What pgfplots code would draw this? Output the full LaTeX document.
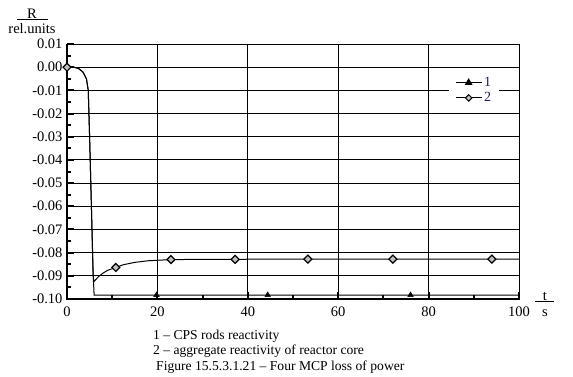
\documentclass[border=0pt]{standalone}
\usepackage{fontspec}
\setmainfont{Liberation Serif}
\usepackage{pgfplots}
\pgfplotsset{compat=1.18}
\definecolor{legtxt}{HTML}{1C1C5C}
\begin{document}
\begin{tikzpicture}[x=1pt,y=1pt]
\useasboundingbox (0,0) rectangle (573,376);
\begin{axis}[
  at={(67pt,77pt)}, anchor=south west,
  scale only axis, width=452pt, height=255pt,
  xmin=0, xmax=100, ymin=-0.10, ymax=0.01,
  xtick={0,20,40,60,80,100},
  xticklabels={0,20,40,60,80,100},
  minor xtick={10,30,50,70,90},
  ytick={-0.10,-0.09,-0.08,-0.07,-0.06,-0.05,-0.04,-0.03,-0.02,-0.01,0,0.01},
  yticklabels={-0.10,-0.09,-0.08,-0.07,-0.06,-0.05,-0.04,-0.03,-0.02,-0.01,0.00,0.01},
  minor ytick={-0.095,-0.085,-0.075,-0.065,-0.055,-0.045,-0.035,-0.025,-0.015,-0.005,0.005},
  grid=major,
  major grid style={black, line width=0.9pt},
  axis line style={black, line width=0.9pt},
  xtick pos=bottom, ytick pos=left,
  tick align=inside,
  major tick length=7pt, minor tick length=4pt,
  every tick/.style={black, line width=2pt},
  ticklabel style={font=\fontsize{14.5}{16}\selectfont},
  xticklabel style={yshift=-4pt},
  yticklabel style={xshift=-1pt},
  clip=false,
  legend style={at={(rel axis cs:0.845,0.882)}, anchor=north west, draw=none, fill=white,
    font=\fontsize{14}{14}\selectfont, text=legtxt, inner xsep=6pt, inner ysep=1pt,
    row sep=0.5pt, cells={anchor=west}},
  legend image code/.code={\draw[mark repeat=2,mark phase=2] plot coordinates {(0pt,0pt) (13pt,0pt) (26pt,0pt)};},
]
\addplot[black, line width=1pt, forget plot] coordinates {
 (0,0) (1.5,0) (2.5,-0.0005) (3.5,-0.002) (4.3,-0.005) (4.7,-0.01) (5.0,-0.03)
 (5.4,-0.06) (5.8,-0.09) (6.0,-0.0983) (100,-0.0983)};
\addplot[black, only marks, mark=triangle*, mark size=3.2pt, forget plot] coordinates {
 (0,0) (19.8,-0.0983) (44.4,-0.0983) (76,-0.0983)};
\addplot[black, line width=1pt, forget plot] coordinates {
 (0,0) (1.5,0) (2.5,-0.0005) (3.5,-0.002) (4.3,-0.005) (4.7,-0.01) (5.0,-0.03)
 (5.4,-0.06) (5.75,-0.088) (5.9,-0.0926) (7,-0.0903) (8,-0.0888) (9,-0.0876) (10.8,-0.0864)
 (12.5,-0.0852) (15,-0.0842) (18,-0.0835) (23,-0.0830) (30,-0.0829) (50,-0.0828) (100,-0.0828)};
\addplot[black, only marks, mark=square*, mark options={rotate=45, fill=gray!50, line width=1.2pt}, mark size=2.8pt, forget plot] coordinates {
 (0,0) (10.8,-0.0864) (23,-0.0830) (37.2,-0.0829) (53.3,-0.0828) (72.1,-0.0828) (94,-0.0828)};
\addlegendimage{black, line width=1pt, mark=triangle*, mark size=3.5pt}
\addlegendentry{1}
\addlegendimage{black, line width=1pt, mark=square*, mark options={rotate=45, fill=gray!50, line width=1pt}, mark size=2.3pt}
\addlegendentry{2}
\draw[black, line width=2.6pt] (rel axis cs:0,1) -- (rel axis cs:0,0) -- (rel axis cs:1,0);
\end{axis}
\node[font=\fontsize{14.5}{16}\selectfont] at (32,362) {R};
\draw[line width=0.8pt] (17,357) -- (48,357);
\node[font=\fontsize{14.5}{16}\selectfont] at (32,347) {rel.units};
\node[font=\fontsize{14.5}{16}\selectfont, anchor=base] at (545,76) {t};
\draw[line width=0.8pt] (535,75) -- (554,75);
\node[font=\fontsize{14.5}{16}\selectfont] at (545,63) {s};
\node[font=\fontsize{13.6}{15}\selectfont, anchor=base west, inner sep=0pt] at (153,37) {1 -- CPS rods reactivity};
\node[font=\fontsize{13.6}{15}\selectfont, anchor=base west, inner sep=0pt] at (153,22) {2 -- aggregate reactivity of reactor core};
\node[font=\fontsize{13.6}{15}\selectfont, anchor=base west, inner sep=0pt] at (156,6) {Figure 15.5.3.1.21 -- Four MCP loss of power};
\end{tikzpicture}
\end{document}
